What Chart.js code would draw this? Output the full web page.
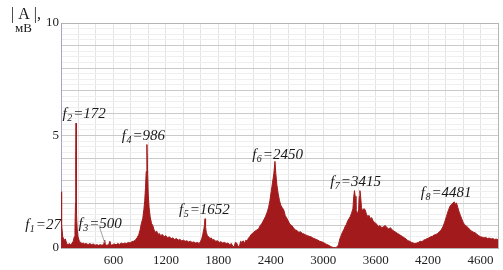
<!DOCTYPE html>
<html lang="ru">
<head>
<meta charset="UTF-8">
<title>Спектр |A|</title>
<script src="https://cdn.jsdelivr.net/npm/chart.js"></script>
<style>
  html, body { margin: 0; padding: 0; background: #fff; }
  #wrap { width: 503px; height: 270px; position: relative; }
</style>
</head>
<body>
<div id="wrap"><canvas id="spectrum"></canvas></div>
<script>
// spectrum: [frequency, |A| in mV]
const spectrum = [
  [0,0],[4,2.5],[10,1.0],[20,0.5],[35,0.35],[50,0.4],[65,0.2],[80,0.15],[95,0.2],[110,0.15],
  [125,0.2],[140,0.3],[152,0.5],[160,0.9],[166,2.0],[169,4.0],[172,5.55],[175,3.2],[179,1.5],[186,0.8],
  [195,0.5],[210,0.3],[225,0.25],[240,0.2],[255,0.22],[270,0.18],[290,0.2],[310,0.15],[330,0.2],[350,0.15],
  [370,0.18],[390,0.12],[410,0.15],[430,0.12],[450,0.15],[470,0.12],[490,0.18],[500,0.35],[508,0.15],[525,0.12],
  [545,0.15],[560,0.3],[570,0.12],[590,0.15],[610,0.18],[630,0.14],[650,0.2],[670,0.16],[690,0.22],[710,0.18],
  [730,0.22],[750,0.2],[770,0.25],[790,0.22],[810,0.28],[830,0.3],[850,0.35],[870,0.45],[890,0.6],[905,0.8],
  [920,1.1],[935,1.3],[948,1.7],[958,2.1],[967,2.7],[975,3.4],[983,4.6],[990,3.5],[998,2.4],[1008,1.8],
  [1020,1.4],[1035,1.1],[1050,1.0],[1065,0.8],[1080,0.7],[1095,0.75],[1110,0.6],[1125,0.65],[1140,0.55],[1160,0.6],
  [1180,0.5],[1200,0.55],[1220,0.45],[1240,0.5],[1260,0.42],[1280,0.45],[1300,0.38],[1320,0.42],[1340,0.35],[1360,0.38],
  [1380,0.32],[1400,0.35],[1420,0.3],[1440,0.32],[1460,0.27],[1480,0.3],[1500,0.25],[1520,0.27],[1540,0.22],[1560,0.25],
  [1580,0.2],[1595,0.28],[1610,0.4],[1622,0.6],[1635,0.85],[1642,1.05],[1648,1.3],[1654,0.95],[1662,0.7],[1675,0.55],
  [1690,0.5],[1705,0.42],[1720,0.45],[1735,0.35],[1750,0.38],[1770,0.3],[1790,0.32],[1810,0.25],[1830,0.28],[1850,0.22],
  [1870,0.25],[1890,0.2],[1910,0.22],[1930,0.15],[1950,0.2],[1965,0.08],[1980,0.05],[1995,0.25],[2010,0.22],[2025,0.08],
  [2040,0.05],[2055,0.3],[2070,0.25],[2085,0.32],[2100,0.2],[2115,0.35],[2130,0.3],[2145,0.45],[2160,0.5],[2175,0.6],
  [2190,0.65],[2205,0.7],[2220,0.75],[2240,0.8],[2260,0.85],[2280,1.0],[2300,1.1],[2320,1.25],[2340,1.4],[2360,1.6],
  [2375,1.8],[2390,2.1],[2405,2.5],[2420,2.9],[2435,3.3],[2448,3.85],[2458,3.3],[2470,2.8],[2485,2.4],[2500,2.1],
  [2515,1.9],[2530,1.8],[2548,1.7],[2565,1.45],[2580,1.35],[2600,1.2],[2620,1.05],[2640,1.0],[2660,0.9],[2680,0.8],
  [2700,0.78],[2720,0.7],[2740,0.72],[2760,0.65],[2780,0.62],[2800,0.58],[2820,0.55],[2840,0.52],[2860,0.5],[2880,0.45],
  [2900,0.42],[2920,0.38],[2940,0.35],[2960,0.3],[2980,0.28],[3000,0.25],[3020,0.2],[3040,0.16],[3060,0.13],[3080,0.08],
  [3100,0.04],[3120,0.02],[3140,0.02],[3160,0.05],[3175,0.15],[3190,0.4],[3205,0.55],[3220,0.7],[3235,0.8],[3250,0.95],
  [3265,1.05],[3280,1.2],[3295,1.3],[3310,1.4],[3325,1.55],[3340,1.75],[3350,2.3],[3358,2.55],[3366,2.3],[3375,1.7],
  [3390,1.5],[3405,1.7],[3412,2.3],[3420,2.55],[3428,2.3],[3438,1.8],[3450,1.65],[3465,1.75],[3480,1.7],[3495,1.5],
  [3510,1.4],[3525,1.45],[3540,1.3],[3555,1.35],[3570,1.2],[3585,1.15],[3600,1.1],[3615,1.05],[3632,0.95],[3650,1.0],
  [3670,0.9],[3690,0.95],[3710,1.0],[3730,0.9],[3750,0.85],[3770,0.9],[3790,0.8],[3810,0.75],[3830,0.7],[3850,0.65],
  [3870,0.6],[3890,0.55],[3910,0.5],[3930,0.45],[3950,0.4],[3970,0.32],[3990,0.3],[4010,0.25],[4030,0.22],[4050,0.2],
  [4070,0.22],[4090,0.25],[4110,0.3],[4130,0.28],[4150,0.35],[4170,0.38],[4190,0.42],[4210,0.45],[4230,0.5],[4250,0.52],
  [4270,0.58],[4290,0.6],[4310,0.65],[4330,0.72],[4350,0.8],[4370,0.95],[4390,1.15],[4410,1.4],[4430,1.65],[4450,1.85],
  [4470,1.95],[4485,2.0],[4500,2.05],[4512,1.95],[4525,2.0],[4540,1.8],[4555,1.6],[4570,1.45],[4585,1.3],[4600,1.15],
  [4615,1.05],[4630,1.0],[4645,0.95],[4660,0.9],[4680,0.8],[4700,0.75],[4720,0.7],[4740,0.68],[4760,0.6],[4780,0.55],
  [4800,0.5],[4820,0.48],[4840,0.45],[4860,0.47],[4880,0.42],[4900,0.44],[4920,0.4],[4940,0.42],[4960,0.38],[4980,0.4],
  [5000,0.36]
];

// x tick labels as printed on the picture (last one reads 4600)
const xTickValues = [600, 1200, 1800, 2400, 3000, 3600, 4200, 4800];
const xTickLabels = ['600', '1200', '1800', '2400', '3000', '3600', '4200', '4600'];
const yTickLabels = [0, 5, 10];

// peak labels f_n = value
const peakNames = ['1', '2', '3', '4', '5', '6', '7', '8'];
const peakValues = ['27', '172', '500', '986', '1652', '2450', '3415', '4481'];
// where each label sits, in chart units (freq, mV)
const labelAnchors = [[-410, 0.85], [18, 5.78], [200, 0.89], [695, 4.8], [1350, 1.51], [2187, 3.96], [3080, 2.76], [4117, 2.27]];

const RED = '#a31a1c';
const SERIF = '"Liberation Serif", "Times New Roman", serif';

const annotations = {
  id: 'annotations',
  afterDraw(chart) {
    const { ctx, scales: { x, y } } = chart;
    ctx.save();
    ctx.fillStyle = '#1a1a1a';
    ctx.textBaseline = 'alphabetic';
    ctx.textAlign = 'left';

    // axis title
    ctx.font = '16px ' + SERIF;
    ctx.fillText('| A |,', 11, 19);
    ctx.font = '13px ' + SERIF;
    ctx.fillText('мВ', 15, 32);

    peakNames.forEach((n, i) => {
      let px = x.getPixelForValue(labelAnchors[i][0]);
      const py = y.getPixelForValue(labelAnchors[i][1]);
      ctx.font = 'italic 15px ' + SERIF;
      ctx.fillText('f', px, py);
      px += ctx.measureText('f').width + 0.5;
      ctx.font = 'italic 10px ' + SERIF;
      ctx.fillText(n, px, py + 3);
      px += ctx.measureText(n).width + 1;
      ctx.font = 'italic 15px ' + SERIF;
      ctx.fillText('=' + peakValues[i], px, py);
    });

    // thin leader line from f3 label to its peak
    ctx.strokeStyle = '#8a8a8a';
    ctx.lineWidth = 0.8;
    ctx.beginPath();
    ctx.moveTo(x.getPixelForValue(444), y.getPixelForValue(0.89));
    ctx.lineTo(x.getPixelForValue(501), y.getPixelForValue(0.22));
    ctx.stroke();
    ctx.restore();
  }
};

new Chart(document.getElementById('spectrum'), {
  type: 'line',
  data: {
    datasets: [{
      data: spectrum.map(p => ({ x: p[0], y: p[1] })),
      borderColor: RED,
      backgroundColor: RED,
      borderWidth: 1,
      pointRadius: 0,
      fill: 'origin',
      tension: 0
    }]
  },
  options: {
    responsive: true,
    maintainAspectRatio: false,
    animation: false,
    layout: { padding: { top: 23, right: 3, left: 0, bottom: 0 } },
    plugins: { legend: { display: false }, tooltip: { enabled: false } },
    scales: {
      x: {
        type: 'linear',
        min: 0,
        max: 5000,
        afterFit: s => { s.height = 22; },
        border: { color: '#b5b5b5' },
        grid: {
          drawTicks: false,
          color: c => c.tick.value === 5000 ? '#b5b5b5' : '#e4e4e4'
        },
        ticks: {
          stepSize: 200,
          autoSkip: false,
          maxRotation: 0,
          padding: 5,
          color: '#222',
          font: { family: SERIF, size: 13 },
          callback: v => {
            const i = xTickValues.indexOf(v);
            return i >= 0 ? xTickLabels[i] : '';
          }
        }
      },
      y: {
        min: 0,
        max: 10,
        afterFit: s => { s.width = 61; },
        border: { color: '#a4a4c4' },
        grid: {
          drawTicks: false,
          color: c => {
            const v = c.tick.value;
            if (v === 10) return '#b5b5b5';
            return Number.isInteger(v) ? '#cacaca' : '#efefef';
          }
        },
        ticks: {
          stepSize: 0.25,
          autoSkip: false,
          padding: 2,
          color: '#222',
          font: { family: SERIF, size: 13 },
          callback: v => yTickLabels.includes(v) ? String(v) : ''
        }
      }
    }
  },
  plugins: [annotations]
});
</script>
</body>
</html>
